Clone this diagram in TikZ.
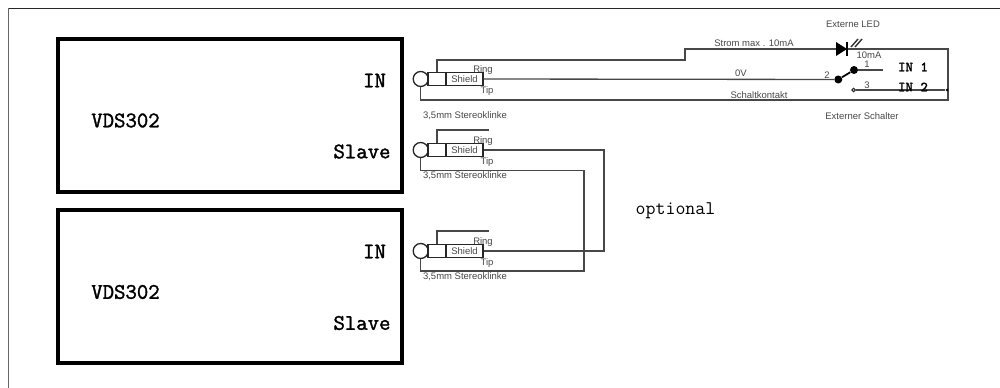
\documentclass[tikz,border=0pt]{standalone}
\usepackage{fontspec}
\setsansfont{Liberation Sans}
\newfontfamily\boldmono[FakeBold=1.6]{Latin Modern Mono}
\usetikzlibrary{positioning}
\tikzset{
	wire/.style={line width=0.75pt, color=black!72},
	vdsbox/.style={draw, line width=1.9pt, minimum width=6.88cm, minimum height=3.06cm, inner sep=0pt},
	bigtxt/.style={font=\boldmono\fontsize{12.6}{14}\selectfont, inner sep=0pt},
	pintxt/.style={font=\boldmono\fontsize{8}{9}\selectfont, inner sep=0pt},
	smalltxt/.style={font=\sffamily\fontsize{5.4}{6}\selectfont, color=black!72, inner sep=0pt},
	sleeve/.style={draw=black!85, line width=0.75pt, minimum width=0.36cm, minimum height=0.266cm, inner sep=0pt},
	shieldbox/.style={draw=black!85, line width=0.75pt, minimum width=0.74cm, minimum height=0.266cm, inner sep=0pt, font=\sffamily\fontsize{5.4}{6}\selectfont, text=black!72},
	jackring/.style={circle, draw=black!85, line width=0.75pt, minimum size=0.3cm, inner sep=0pt},
	swdot/.style={circle, fill=black, minimum size=0.16cm, inner sep=0pt},
	swopen/.style={circle, draw=black!85, fill=white, line width=0.6pt, minimum size=0.07cm, inner sep=0pt}
}

\begin{document}
\begin{tikzpicture}[x=0.02cm, y=-0.02cm]
			%%%%% START %%%%%
			\useasboundingbox (0, 0) rectangle (1000, 388);
			
			% sheet edges
			\draw[line width=0.6pt, color=black!60] (8.5, 388) -- (8.5, 8.5);
			\draw[line width=0.6pt, color=black!85] (8.5, 8.5) -- (1000, 8.5);
			
			% devices
			\node[vdsbox] (vdsa) at (230, 115.5) {};
			\node[vdsbox] (vdsb) at (230, 286.5) {};
			\node[bigtxt] (namea) at (125.5, 120.5) {VDS302};
			\node[bigtxt] (nameb) at (125.5, 292) {VDS302};
			\node[bigtxt] (ina) at (374.5, 80.5) {IN};
			\node[bigtxt] (inb) at (374.5, 251.5) {IN};
			\node[bigtxt] (slavea) at (362, 151.5) {Slave};
			\node[bigtxt] (slaveb) at (362, 323) {Slave};
			
			% jacks
			\foreach \n/\y in {a/79, b/150, c/251} {
				\node[sleeve] (sl\n) at (437, \y) {};
				\node[shieldbox, right=-0.75pt of sl\n] (sh\n) {Shield};
				\node[jackring] (ring\n) at (420.7, \y) {};
				\node[smalltxt] (ringtxt\n) at (483, \y-9) {Ring};
				\node[smalltxt] (tiptxt\n) at (487, \y+12.5) {Tip};
			}
			\node[smalltxt] (typea) at (465, 116) {3,5mm Stereoklinke};
			\node[smalltxt] (typeb) at (465, 176) {3,5mm Stereoklinke};
			\node[smalltxt] (typec) at (465, 277) {3,5mm Stereoklinke};
			
			% top jack to switch and LED
			\coordinate (kinka) at (685, 60);
			\coordinate (kinkb) at (685, 49);
			\coordinate (led) at (841.5, 49);
			\coordinate (cornertop) at (948, 49);
			\coordinate (cornerbot) at (948, 100);
			\draw[wire] (sla.north) |- (kinka) -- (kinkb) -- (led) -- (cornertop) -- (cornerbot) -| (ringa.south);
			\fill[black] (led) ++(-5.5, -7) -- ++(11, 7) -- ++(-11, 7) -- cycle;
			\draw[line width=0.9pt] (847, 42) -- (847, 56);
			\draw[line width=0.8pt, color=black!80] (851, 47) -- (858, 39) (855, 47) -- (862, 39);
			
			\node[swdot] (swmid) at (838.3, 79.5) {};
			\node[swdot] (swone) at (854, 70) {};
			\node[swopen] (swtwo) at (853.5, 90) {};
			\node[circle, fill=black, minimum size=0.06cm, inner sep=0pt] (joint) at (947, 90) {};
			\coordinate (oneend) at (883, 70);
			\draw[wire] (sha.east) -- (swmid);
			\draw[line width=1pt] (swmid) -- (swone);
			\draw[wire] (swone) -- (oneend);
			\draw[wire] (swtwo) -- (joint);
			
			\node[smalltxt] (ledtxt) at (853, 24) {Externe LED};
			\node[smalltxt] (currtxt) at (754, 43) {Strom max . 10mA};
			\node[smalltxt] (tentxt) at (869, 55) {10mA};
			\node[smalltxt] (volttxt) at (741, 73) {0V};
			\node[smalltxt] (contxt) at (759, 95) {Schaltkontakt};
			\node[smalltxt] (swtxt) at (862, 116) {Externer Schalter};
			\node[smalltxt] (pina) at (867, 64) {1};
			\node[smalltxt] (pinb) at (827, 75) {2};
			\node[smalltxt] (pinc) at (867, 85) {3};
			\node[pintxt] (inone) at (913, 67) {IN 1};
			\node[pintxt] (intwo) at (913, 87) {IN 2};
			
			% optional slave link
			\coordinate (stubb) at (489, 130);
			\coordinate (stubc) at (489, 231);
			\coordinate (shieldrun) at (604, 150);
			\coordinate (tiprun) at (584, 170.7);
			\coordinate (tipback) at (584, 271);
			\draw[wire] (slb.north) |- (stubb);
			\draw[wire] (slc.north) |- (stubc);
			\draw[wire] (shb.east) -- (shieldrun) |- (shc.east);
			\draw[wire] (ringb.south) |- (tiprun) -- (tipback) -| (ringc.south);
			
			\node[font=\ttfamily\fontsize{11}{13}\selectfont, inner sep=0pt] (opttxt) at (675.5, 211) {optional};
			%%%%% END %%%%%
		\end{tikzpicture}
\end{document}
